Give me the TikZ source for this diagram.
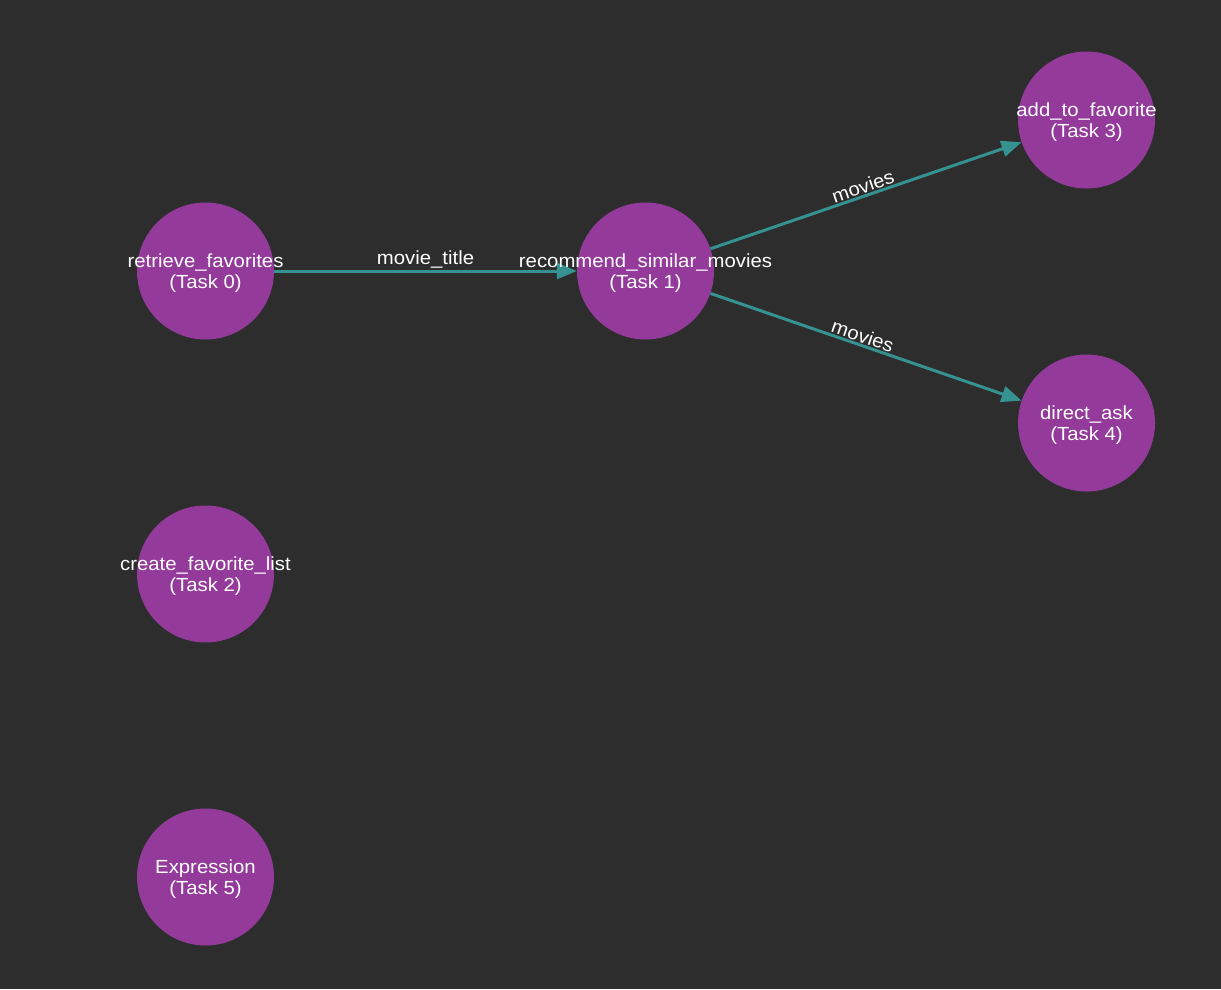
\documentclass[tikz,border=0pt]{standalone}
\usepackage{fontspec}
\setmainfont[FakeStretch=1.07]{Liberation Sans}
\usetikzlibrary{arrows.meta}
\definecolor{bg}{RGB}{45,45,45}
\definecolor{nodefill}{RGB}{147,58,155}
\definecolor{edgecol}{RGB}{54,145,145}
\tikzset{
  task/.style={circle, fill=nodefill, minimum size=137pt, inner sep=0pt},
  tasktext/.style={text=white, align=center, inner sep=0pt, font=\fontsize{19}{21}\selectfont},
  dep/.style={draw=edgecol, line width=3pt, -{Triangle[length=20pt,width=16pt]}},
  lbl/.style={text=white, font=\fontsize{19}{21}\selectfont, sloped, above, inner sep=1pt}
}
\begin{document}
\begin{tikzpicture}[x=1pt,y=-1pt]
\fill[bg] (0,0) rectangle (1221,989);
\useasboundingbox (0,0) rectangle (1221,989);
\node[task] (t0) at (205.5,271) {};
\node[task] (t1) at (645.5,271) {};
\node[task] (t2) at (205.5,574) {};
\node[task] (t3) at (1086.5,120) {};
\node[task] (t4) at (1086.5,423) {};
\node[task] (t5) at (205.5,877) {};
\draw[dep] (t0) -- node[lbl] {movie\_title} (t1);
\draw[dep] (t1) -- node[lbl] {movies} (t3);
\draw[dep] (t1) -- node[lbl, pos=0.48] {movies} (t4);
\node[tasktext] (l0) at ([yshift=-2pt]t0.center) {retrieve\_favorites\\(Task 0)};
\node[tasktext] (l1) at ([yshift=-2pt]t1.center) {recommend\_similar\_movies\\(Task 1)};
\node[tasktext] (l2) at ([yshift=-2pt]t2.center) {create\_favorite\_list\\(Task 2)};
\node[tasktext] (l3) at ([yshift=-2pt]t3.center) {add\_to\_favorite\\(Task 3)};
\node[tasktext] (l4) at ([yshift=-2pt]t4.center) {direct\_ask\\(Task 4)};
\node[tasktext] (l5) at ([yshift=-2pt]t5.center) {Expression\\(Task 5)};
\end{tikzpicture}
\end{document}
